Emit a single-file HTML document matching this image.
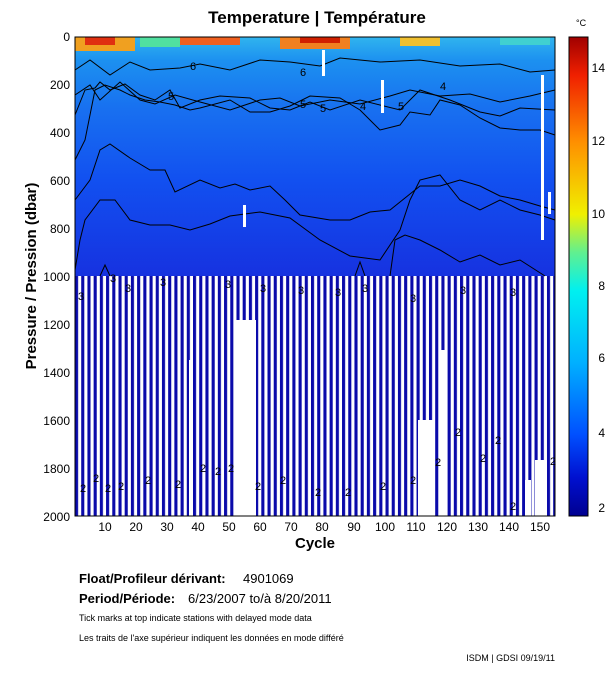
<!DOCTYPE html>
<html><head><style>
body{margin:0;background:#fff;width:611px;height:675px;overflow:hidden;font-family:"Liberation Sans",sans-serif}
</style></head><body>
<svg width="611" height="675" xmlns="http://www.w3.org/2000/svg" font-family="Liberation Sans, sans-serif">
<defs>
<linearGradient id="tg" x1="0" y1="0" x2="0" y2="1">
<stop offset="0" stop-color="#30b4ee"/>
<stop offset="0.1" stop-color="#1c90f0"/>
<stop offset="0.3" stop-color="#1870f0"/>
<stop offset="0.6" stop-color="#1250f0"/>
<stop offset="1" stop-color="#1632e0"/>
</linearGradient>
<linearGradient id="cb" x1="0" y1="1" x2="0" y2="0">
<stop offset="0" stop-color="#000090"/>
<stop offset="0.08" stop-color="#0010d0"/>
<stop offset="0.17" stop-color="#0050ff"/>
<stop offset="0.32" stop-color="#00b0ff"/>
<stop offset="0.47" stop-color="#00f0f0"/>
<stop offset="0.55" stop-color="#60f090"/>
<stop offset="0.63" stop-color="#f0f000"/>
<stop offset="0.78" stop-color="#ff9000"/>
<stop offset="0.92" stop-color="#f02000"/>
<stop offset="1" stop-color="#a00000"/>
</linearGradient>
<pattern id="bars" x="75" y="0" width="6.21" height="10" patternUnits="userSpaceOnUse">
<rect x="0" y="0" width="3.1" height="10" fill="#0a0aaa"/>
</pattern>
</defs>
<text x="317" y="23" font-size="17" font-weight="bold" text-anchor="middle">Temperature | Température</text>
<rect x="75" y="37" width="480" height="239" fill="url(#tg)"/>
<rect x="75" y="37" width="60" height="14" fill="#f0a020"/>
<rect x="85" y="37" width="30" height="8" fill="#e03010"/>
<rect x="140" y="37" width="40" height="10" fill="#50e0a0"/>
<rect x="180" y="37" width="60" height="8" fill="#f06020"/>
<rect x="280" y="37" width="70" height="12" fill="#f08020"/>
<rect x="300" y="37" width="40" height="6" fill="#d02000"/>
<rect x="400" y="37" width="40" height="9" fill="#f0c030"/>
<rect x="500" y="37" width="50" height="8" fill="#40d0d0"/>
<g fill="none" stroke="#000" stroke-width="1">
<polyline points="75,70 90,60 110,75 130,62 150,70 180,68 200,64 230,70 260,60 290,62 320,66 340,58 380,62 420,60 460,66 500,64 530,72 555,70"/>
<polyline points="75,95 90,85 100,100 120,82 140,100 155,104 175,95 200,102 230,110 260,100 280,98 300,106 330,100 360,104 390,96 410,90 440,96 470,94 500,102 530,96 555,90"/>
<polyline points="75,115 85,90 95,88 100,82 110,90 125,84 140,95 155,100 170,90 180,108 200,100 220,96 250,98 270,108 290,110 310,102 330,110 360,100 400,110 420,90 450,100 480,112 500,116 520,108 555,110"/>
<polyline points="75,160 85,140 95,90 105,85 120,90 130,95 145,100 160,102 175,105 190,110 200,108 230,100 250,112 270,112 290,106 310,96 340,98 360,110 380,130 400,125 410,112 430,115 440,100 460,105 480,118 500,128 520,130 540,130 555,135"/>
<polyline points="75,200 90,180 100,150 110,144 130,158 150,170 165,170 175,192 200,180 220,188 235,184 250,190 270,186 285,200 300,215 330,220 350,220 370,212 390,210 410,194 420,186 440,186 460,180 480,186 500,196 520,200 540,206 555,210"/>
<polyline points="75,270 80,240 85,220 100,200 115,200 130,220 150,225 170,225 190,230 210,224 230,216 260,212 290,218 320,240 350,256 380,260 400,230 410,200 420,180 440,175 460,200 480,210 500,200 520,210 540,215 555,220"/>
<polyline points="100,276 105,265 110,276"/>
<polyline points="355,276 360,262 365,276"/>
<polyline points="390,276 395,240 405,235 420,240 440,250 460,262 480,255 500,265 520,260 545,276"/>
</g>
<rect x="243" y="205" width="3" height="22" fill="#fff"/>
<rect x="322" y="50" width="3" height="26" fill="#fff"/>
<rect x="381" y="80" width="3" height="33" fill="#fff"/>
<rect x="541" y="75" width="3" height="165" fill="#fff"/>
<rect x="548" y="192" width="3" height="22" fill="#fff"/>
<g font-size="11" fill="#000">
<text x="168" y="100">5</text><text x="300" y="108">5</text><text x="398" y="110">5</text><text x="320" y="112">5</text>
<text x="360" y="110">4</text><text x="440" y="90">4</text><text x="300" y="76">6</text><text x="190" y="70">6</text>
</g>
<rect x="75" y="276" width="480" height="240" fill="url(#bars)"/>
<g fill="#fff">
<rect x="236" y="320" width="20" height="196"/>
<rect x="189" y="360" width="4" height="156"/>
<rect x="418" y="420" width="16" height="96"/>
<rect x="440" y="350" width="6" height="166"/>
<rect x="535" y="460" width="12" height="56"/>
<rect x="525" y="480" width="6" height="36"/>
</g>
<g font-size="11" fill="#000">
<text x="78" y="300">3</text><text x="110" y="282">3</text><text x="125" y="292">3</text><text x="160" y="286">3</text>
<text x="225" y="288">3</text><text x="260" y="292">3</text><text x="298" y="294">3</text><text x="335" y="296">3</text>
<text x="362" y="292">3</text><text x="410" y="302">3</text><text x="460" y="294">3</text><text x="510" y="296">3</text>
<text x="80" y="492">2</text><text x="93" y="482">2</text><text x="105" y="492">2</text><text x="118" y="490">2</text>
<text x="145" y="484">2</text><text x="175" y="488">2</text><text x="200" y="472">2</text><text x="215" y="475">2</text>
<text x="228" y="472">2</text><text x="255" y="490">2</text><text x="280" y="484">2</text><text x="315" y="496">2</text>
<text x="345" y="496">2</text><text x="380" y="490">2</text><text x="410" y="484">2</text><text x="435" y="466">2</text>
<text x="455" y="436">2</text><text x="480" y="462">2</text><text x="495" y="444">2</text><text x="510" y="510">2</text>
<text x="550" y="465">2</text>
</g>
<rect x="75" y="37" width="480" height="479" fill="none" stroke="#000" stroke-width="1"/>
<g font-size="12" text-anchor="end" fill="#000">
<text x="70" y="41">0</text><text x="70" y="89">200</text><text x="70" y="137">400</text><text x="70" y="185">600</text>
<text x="70" y="233">800</text><text x="70" y="281">1000</text><text x="70" y="329">1200</text><text x="70" y="377">1400</text>
<text x="70" y="425">1600</text><text x="70" y="473">1800</text><text x="70" y="521">2000</text>
</g>
<text transform="translate(36,276) rotate(-90)" font-size="15" font-weight="bold" text-anchor="middle">Pressure / Pression (dbar)</text>
<g font-size="12" text-anchor="middle">
<text x="105" y="531">10</text><text x="136" y="531">20</text><text x="167" y="531">30</text><text x="198" y="531">40</text>
<text x="229" y="531">50</text><text x="260" y="531">60</text><text x="291" y="531">70</text><text x="322" y="531">80</text>
<text x="354" y="531">90</text><text x="385" y="531">100</text><text x="416" y="531">110</text><text x="447" y="531">120</text>
<text x="478" y="531">130</text><text x="509" y="531">140</text><text x="540" y="531">150</text>
</g>
<text x="315" y="548" font-size="15" font-weight="bold" text-anchor="middle">Cycle</text>
<rect x="569" y="37" width="19" height="479" fill="url(#cb)" stroke="#000" stroke-width="1"/>
<text x="576" y="26" font-size="9">°C</text>
<g font-size="12" text-anchor="end">
<text x="605" y="512">2</text><text x="605" y="437">4</text><text x="605" y="362">6</text><text x="605" y="290">8</text>
<text x="605" y="218">10</text><text x="605" y="145">12</text><text x="605" y="72">14</text>
</g>
<text x="79" y="583" font-size="13" font-weight="bold">Float/Profileur dérivant:</text>
<text x="243" y="583" font-size="13">4901069</text>
<text x="79" y="603" font-size="13" font-weight="bold">Period/Période:</text>
<text x="188" y="603" font-size="13">6/23/2007  to/à  8/20/2011</text>
<text x="79" y="621" font-size="9">Tick marks at top indicate stations with delayed mode data</text>
<text x="79" y="641" font-size="9">Les traits de l'axe supérieur indiquent les données en mode différé</text>
<text x="555" y="661" font-size="9" text-anchor="end">ISDM | GDSI  09/19/11</text>
</svg>
</body></html>
